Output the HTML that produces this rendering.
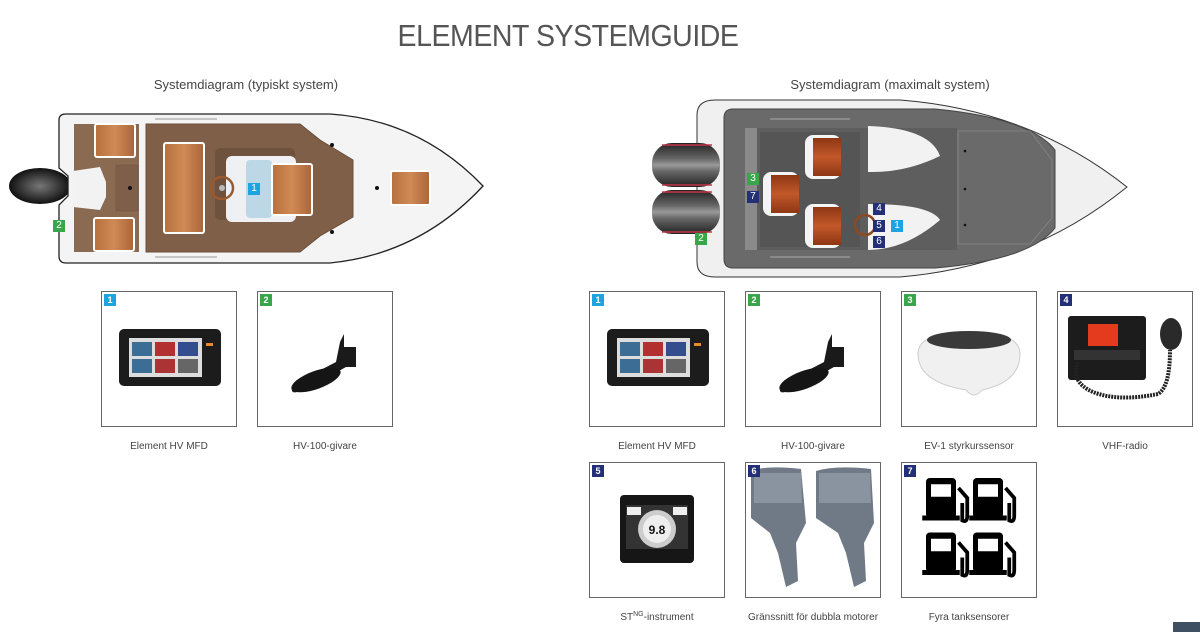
<!DOCTYPE html>
<html><head><meta charset="utf-8"><style>
html,body{margin:0;padding:0;background:#fff;}
body{width:1200px;height:632px;position:relative;overflow:hidden;font-family:"Liberation Sans",sans-serif;color:#444;}
.t{position:absolute;left:0;width:1136px;top:18px;text-align:center;font-size:31px;color:#555;letter-spacing:-0.5px;transform:scaleX(0.92);transform-origin:568px 0;}
.sub{position:absolute;top:77px;font-size:13px;color:#444;text-align:center;width:300px;}
.card{position:absolute;width:134px;height:134px;border:1px solid #666;background:#fff;overflow:hidden;}
.card svg{position:absolute;left:0;top:0;}
.b{position:absolute;left:2px;top:2px;width:12px;height:12px;color:#fff;font-size:9px;font-weight:bold;text-align:center;line-height:12px;}
.cy{background:#1ba4e0}.gr{background:#3aa64a}.nv{background:#232f77}
.lab{position:absolute;width:180px;text-align:center;font-size:10px;color:#444;line-height:12px;}
.lab sup{font-size:7px;line-height:0;vertical-align:4px;}
.mk{position:absolute;width:12px;height:12px;color:#fff;font-size:10px;text-align:center;line-height:12px;}
</style></head><body>
<div class="t">ELEMENT SYSTEMGUIDE</div>
<div class="sub" style="left:96px">Systemdiagram (typiskt system)</div>
<div class="sub" style="left:740px">Systemdiagram (maximalt system)</div>

<svg width="1200" height="290" style="position:absolute;left:0;top:0">
<defs>
<linearGradient id="teakh" x1="0" y1="0" x2="1" y2="0"><stop offset="0" stop-color="#b5703d"/><stop offset=".5" stop-color="#d08a55"/><stop offset="1" stop-color="#a9643a"/></linearGradient>
<radialGradient id="mot"><stop offset="0" stop-color="#777"/><stop offset="1" stop-color="#111"/></radialGradient>
<linearGradient id="rmot" x1="0" y1="0" x2="0" y2="1"><stop offset="0" stop-color="#222"/><stop offset=".35" stop-color="#666"/><stop offset=".5" stop-color="#999"/><stop offset=".65" stop-color="#666"/><stop offset="1" stop-color="#222"/></linearGradient>
<linearGradient id="seat" x1="0" y1="0" x2="0" y2="1"><stop offset="0" stop-color="#8e3614"/><stop offset=".5" stop-color="#c2582a"/><stop offset="1" stop-color="#8e3614"/></linearGradient>
</defs>
<ellipse cx="40" cy="186" rx="31" ry="18" fill="url(#mot)"/>
<path d="M59,120 Q59,114 66,114 L330,114 Q420,120 483,186 Q420,254 330,263 L66,263 Q59,263 59,256 L59,205 L68,196 L68,176 L59,168 Z" fill="#f4f4f4" stroke="#222" stroke-width="1.3"/>
<rect x="74" y="124" width="65" height="128" fill="#8b6a52"/>
<path d="M73,171 L100,167 L106,182 L106,197 L100,210 L73,207 Z" fill="#f2f2f2"/>
<rect x="116" y="165" width="22" height="46" fill="#7e604a" stroke="#6e5440" stroke-width="0.5"/>
<circle cx="130" cy="188" r="2" fill="#111"/>
<path d="M146,124 L300,124 L320,140 L353,160 L353,217 L320,236 L300,252 L146,252 Z" fill="#7f5f47" stroke="#6b4e39" stroke-width="1"/>
<rect x="215" y="148" width="80" height="72" rx="5" fill="#6e523e"/>
<rect x="226" y="156" width="70" height="66" rx="6" fill="#eef0f3"/>
<rect x="246" y="160" width="26" height="58" rx="4" fill="#bcd8e6"/>
<circle cx="222" cy="188" r="11" fill="none" stroke="#9b5a2e" stroke-width="2.5"/>
<circle cx="222" cy="188" r="3" fill="#bbb"/>
<rect x="164" y="143" width="40" height="90" rx="2" fill="url(#teakh)" stroke="#fff" stroke-width="2"/>
<rect x="272" y="164" width="40" height="51" rx="2" fill="url(#teakh)" stroke="#fff" stroke-width="2"/>
<rect x="95" y="124" width="40" height="33" rx="2" fill="url(#teakh)" stroke="#fff" stroke-width="2"/>
<rect x="94" y="218" width="40" height="33" rx="2" fill="url(#teakh)" stroke="#fff" stroke-width="2"/>
<rect x="391" y="171" width="39" height="34" rx="2" fill="url(#teakh)" stroke="#fff" stroke-width="2"/>
<circle cx="332" cy="145" r="2" fill="#111"/><circle cx="332" cy="232" r="2" fill="#111"/><circle cx="377" cy="188" r="2" fill="#111"/>
<line x1="155" y1="119" x2="217" y2="119" stroke="#999"/><line x1="155" y1="257" x2="217" y2="257" stroke="#999"/>
<path d="M697,115 Q697,100 715,100 L900,100 Q1030,110 1127,187 Q1030,266 900,277 L715,277 Q697,277 697,262 Z" fill="#f0f0f0" stroke="#333" stroke-width="1"/>
<path d="M733,109 L935,109 Q1030,118 1055,150 L1055,228 Q1030,260 935,268 L733,268 Q724,268 724,259 L724,118 Q724,109 733,109 Z" fill="#6a6a6a" stroke="#444"/>
<path d="M958,131 L1030,131 L1052,160 L1052,218 L1030,244 L958,244 Z" fill="none" stroke="#888" stroke-width="0.8"/>
<rect x="745" y="128" width="12" height="122" fill="#8a8a8a"/>
<rect x="757" y="128" width="200" height="122" fill="#5e5e5e"/>
<rect x="760" y="132" width="100" height="115" fill="#555"/>
<path d="M868,126 Q930,128 940,156 Q905,173 868,172 Z" fill="#f2f2f2"/>
<path d="M868,204 Q930,204 940,220 Q905,250 868,250 Z" fill="#f2f2f2"/>
<rect x="805" y="135" width="36" height="44" rx="8" fill="#f4f4f4"/><rect x="813" y="138" width="28" height="38" fill="url(#seat)"/>
<rect x="763" y="172" width="36" height="44" rx="8" fill="#f4f4f4"/><rect x="771" y="175" width="28" height="38" fill="url(#seat)"/>
<rect x="805" y="204" width="36" height="44" rx="8" fill="#f4f4f4"/><rect x="813" y="207" width="28" height="38" fill="url(#seat)"/>
<circle cx="865" cy="225" r="10" fill="none" stroke="#8d4a22" stroke-width="2.5"/>
<circle cx="965" cy="151" r="1.3" fill="#111"/><circle cx="965" cy="189" r="1.3" fill="#111"/><circle cx="965" cy="225" r="1.3" fill="#111"/>
<line x1="770" y1="119" x2="850" y2="119" stroke="#aaa"/><line x1="770" y1="257" x2="850" y2="257" stroke="#aaa"/>
<rect x="652" y="143" width="68" height="44" rx="20" fill="url(#rmot)"/>
<rect x="652" y="190" width="68" height="44" rx="20" fill="url(#rmot)"/>
<line x1="662" y1="145" x2="712" y2="145" stroke="#c2354a" stroke-width="1.5"/><line x1="662" y1="185" x2="712" y2="185" stroke="#c2354a" stroke-width="1.5"/>
<line x1="662" y1="192" x2="712" y2="192" stroke="#c2354a" stroke-width="1.5"/><line x1="662" y1="232" x2="712" y2="232" stroke="#c2354a" stroke-width="1.5"/>
</svg>
<div class="mk cy" style="left:248px;top:183px">1</div>
<div class="mk gr" style="left:53px;top:220px">2</div>
<div class="mk gr" style="left:747px;top:173px">3</div>
<div class="mk nv" style="left:747px;top:191px">7</div>
<div class="mk nv" style="left:873px;top:203px">4</div>
<div class="mk nv" style="left:873px;top:220px">5</div>
<div class="mk nv" style="left:873px;top:236px">6</div>
<div class="mk cy" style="left:891px;top:220px">1</div>
<div class="mk gr" style="left:695px;top:233px">2</div>

<div class="card" style="left:101px;top:291px"><svg width="134" height="134"><rect x="17" y="37" width="102" height="57" rx="5" fill="#1c1c1c"/><rect x="27" y="46" width="73" height="39" fill="#ddd"/><rect x="30" y="50" width="20" height="14" fill="#3b6d95"/><rect x="53" y="50" width="20" height="14" fill="#b33030"/><rect x="76" y="50" width="20" height="14" fill="#334d8e"/><rect x="30" y="67" width="20" height="14" fill="#3b6d95"/><rect x="53" y="67" width="20" height="14" fill="#a33"/><rect x="76" y="67" width="20" height="14" fill="#666"/><rect x="104" y="51" width="7" height="3" fill="#e88a2a"/></svg><div class="b cy">1</div></div>
<div class="card" style="left:257px;top:291px"><svg width="134" height="134"><path d="M86,42 L86,55 L98,55 L98,75 L88,75 L70,85 L44,98 Q32,104 34,95 Q38,86 55,82 L78,70 L82,50 Z" fill="#1a1a1a"/><ellipse cx="58" cy="88" rx="26" ry="9" transform="rotate(-20 58 88)" fill="#151515"/></svg><div class="b gr">2</div></div>

<div class="card" style="left:589px;top:291px"><svg width="134" height="134"><rect x="17" y="37" width="102" height="57" rx="5" fill="#1c1c1c"/><rect x="27" y="46" width="73" height="39" fill="#ddd"/><rect x="30" y="50" width="20" height="14" fill="#3b6d95"/><rect x="53" y="50" width="20" height="14" fill="#b33030"/><rect x="76" y="50" width="20" height="14" fill="#334d8e"/><rect x="30" y="67" width="20" height="14" fill="#3b6d95"/><rect x="53" y="67" width="20" height="14" fill="#a33"/><rect x="76" y="67" width="20" height="14" fill="#666"/><rect x="104" y="51" width="7" height="3" fill="#e88a2a"/></svg><div class="b cy">1</div></div>
<div class="card" style="left:745px;top:291px"><svg width="134" height="134"><path d="M86,42 L86,55 L98,55 L98,75 L88,75 L70,85 L44,98 Q32,104 34,95 Q38,86 55,82 L78,70 L82,50 Z" fill="#1a1a1a"/><ellipse cx="58" cy="88" rx="26" ry="9" transform="rotate(-20 58 88)" fill="#151515"/></svg><div class="b gr">2</div></div>
<div class="card" style="left:901px;top:291px"><svg width="134" height="134"><path d="M16,62 Q16,40 67,40 Q118,40 118,62 Q118,90 80,98 Q72,108 64,98 Q16,90 16,62 Z" fill="#f0f0f0" stroke="#ccc"/><ellipse cx="67" cy="48" rx="42" ry="9" fill="#3a3a3a"/></svg><div class="b gr">3</div></div>
<div class="card" style="left:1057px;top:291px"><svg width="134" height="134"><rect x="10" y="24" width="78" height="64" rx="3" fill="#1c1c1c"/><rect x="30" y="32" width="30" height="22" fill="#e43a1e"/><rect x="16" y="58" width="66" height="10" fill="#333"/><ellipse cx="113" cy="42" rx="11" ry="16" fill="#2a2a2a"/><path d="M20,70 Q12,90 35,100 Q60,110 100,102 Q112,95 112,58" fill="none" stroke="#222" stroke-width="4" stroke-dasharray="2 1"/></svg><div class="b nv">4</div></div>

<div class="card" style="left:589px;top:462px"><svg width="134" height="134"><rect x="30" y="32" width="74" height="68" rx="4" fill="#161616"/><rect x="36" y="42" width="62" height="44" fill="#333"/><circle cx="67" cy="66" r="19" fill="#ccc"/><circle cx="67" cy="66" r="14" fill="#eee"/><text x="67" y="71" font-size="12" text-anchor="middle" font-weight="bold" fill="#111" font-family="Liberation Sans">9.8</text><rect x="37" y="44" width="14" height="8" fill="#eee"/><rect x="83" y="44" width="14" height="8" fill="#eee"/></svg><div class="b nv">5</div></div>
<div class="card" style="left:745px;top:462px"><svg width="134" height="134"><path d="M5,8 Q20,2 55,6 L60,60 L50,80 L52,118 L40,124 L32,90 L24,70 L5,55 Z" fill="#6f7a86"/><path d="M70,8 Q90,2 125,6 L128,60 L118,80 L120,118 L108,124 L100,90 L92,70 L70,55 Z" fill="#6f7a86"/><path d="M8,10 L55,10 L56,40 L8,40 Z" fill="#8994a0"/><path d="M73,10 L124,10 L125,40 L73,40 Z" fill="#8994a0"/></svg><div class="b nv">6</div></div>
<div class="card" style="left:901px;top:462px"><svg width="134" height="134" fill="#000">
<g transform="translate(-1,-2.5) scale(1.25)"><rect x="20" y="14" width="24" height="32" rx="3"/><rect x="17" y="44" width="30" height="4"/><rect x="24" y="19" width="16" height="10" fill="#fff"/><path d="M46,22 L53,30 L53,44 Q53,50 49,48 L49,34" fill="none" stroke="#000" stroke-width="3"/></g>
<g transform="translate(46,-2.5) scale(1.25)"><rect x="20" y="14" width="24" height="32" rx="3"/><rect x="17" y="44" width="30" height="4"/><rect x="24" y="19" width="16" height="10" fill="#fff"/><path d="M46,22 L53,30 L53,44 Q53,50 49,48 L49,34" fill="none" stroke="#000" stroke-width="3"/></g>
<g transform="translate(-1,52) scale(1.25)"><rect x="20" y="14" width="24" height="32" rx="3"/><rect x="17" y="44" width="30" height="4"/><rect x="24" y="19" width="16" height="10" fill="#fff"/><path d="M46,22 L53,30 L53,44 Q53,50 49,48 L49,34" fill="none" stroke="#000" stroke-width="3"/></g>
<g transform="translate(46,52) scale(1.25)"><rect x="20" y="14" width="24" height="32" rx="3"/><rect x="17" y="44" width="30" height="4"/><rect x="24" y="19" width="16" height="10" fill="#fff"/><path d="M46,22 L53,30 L53,44 Q53,50 49,48 L49,34" fill="none" stroke="#000" stroke-width="3"/></g>
</svg><div class="b nv">7</div></div>

<div class="lab" style="left:79px;top:441px">Element HV MFD</div>
<div class="lab" style="left:235px;top:441px">HV-100-givare</div>
<div class="lab" style="left:567px;top:441px">Element HV MFD</div>
<div class="lab" style="left:723px;top:441px">HV-100-givare</div>
<div class="lab" style="left:879px;top:441px">EV-1 styrkurssensor</div>
<div class="lab" style="left:1035px;top:441px">VHF-radio</div>
<div class="lab" style="left:567px;top:612px">ST<sup>NG</sup>-instrument</div>
<div class="lab" style="left:723px;top:612px">Gränssnitt för dubbla motorer</div>
<div class="lab" style="left:879px;top:612px">Fyra tanksensorer</div>
<div style="position:absolute;left:1173px;top:622px;width:27px;height:10px;background:#3f5063"></div>
</body></html>
